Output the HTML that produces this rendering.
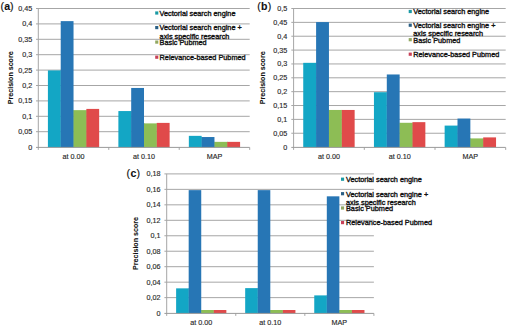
<!DOCTYPE html>
<html><head><meta charset="utf-8"><style>
html,body{margin:0;padding:0;background:#fff;}
body{width:520px;height:326px;overflow:hidden;}
svg{display:block;}
.lg{font-size:7.3px;}
.t{fill:#2a2a2a;stroke:#2a2a2a;stroke-width:0.15px;}
text{font-family:"Liberation Sans", sans-serif;font-size:7.2px;fill:#111;stroke:#111;stroke-width:0.35px;}
</style></head><body>
<svg width="520" height="326" viewBox="0 0 520 326">
<rect width="520" height="326" fill="#fff"/>
<line x1="36.00" y1="131.70" x2="249.70" y2="131.70" stroke="#a6a6a6" stroke-width="1"/>
<line x1="36.00" y1="116.30" x2="249.70" y2="116.30" stroke="#a6a6a6" stroke-width="1"/>
<line x1="36.00" y1="100.90" x2="249.70" y2="100.90" stroke="#a6a6a6" stroke-width="1"/>
<line x1="36.00" y1="85.50" x2="249.70" y2="85.50" stroke="#a6a6a6" stroke-width="1"/>
<line x1="36.00" y1="70.10" x2="249.70" y2="70.10" stroke="#a6a6a6" stroke-width="1"/>
<line x1="36.00" y1="54.70" x2="249.70" y2="54.70" stroke="#a6a6a6" stroke-width="1"/>
<line x1="36.00" y1="39.30" x2="249.70" y2="39.30" stroke="#a6a6a6" stroke-width="1"/>
<line x1="36.00" y1="23.90" x2="249.70" y2="23.90" stroke="#a6a6a6" stroke-width="1"/>
<line x1="36.00" y1="8.50" x2="249.70" y2="8.50" stroke="#a6a6a6" stroke-width="1"/>
<line x1="38.30" y1="8.50" x2="38.30" y2="147.40" stroke="#a6a6a6" stroke-width="1"/>
<line x1="38.30" y1="147.40" x2="38.30" y2="149.90" stroke="#a6a6a6" stroke-width="1"/>
<line x1="108.77" y1="147.40" x2="108.77" y2="149.90" stroke="#a6a6a6" stroke-width="1"/>
<line x1="179.23" y1="147.40" x2="179.23" y2="149.90" stroke="#a6a6a6" stroke-width="1"/>
<line x1="249.70" y1="147.40" x2="249.70" y2="149.90" stroke="#a6a6a6" stroke-width="1"/>
<text x="32.20" y="149.60" text-anchor="end" class="t">0</text>
<text x="32.20" y="134.20" text-anchor="end" class="t">0,05</text>
<text x="32.20" y="118.80" text-anchor="end" class="t">0,1</text>
<text x="32.20" y="103.40" text-anchor="end" class="t">0,15</text>
<text x="32.20" y="88.00" text-anchor="end" class="t">0,2</text>
<text x="32.20" y="72.60" text-anchor="end" class="t">0,25</text>
<text x="32.20" y="57.20" text-anchor="end" class="t">0,3</text>
<text x="32.20" y="41.80" text-anchor="end" class="t">0,35</text>
<text x="32.20" y="26.40" text-anchor="end" class="t">0,4</text>
<text x="32.20" y="11.00" text-anchor="end" class="t">0,45</text>
<rect x="47.91" y="70.41" width="12.81" height="76.99" fill="#13a6c5"/>
<rect x="60.42" y="70.41" width="0.8" height="76.99" fill="#13a6c5"/>
<rect x="60.72" y="21.13" width="12.81" height="126.27" fill="#2776b5"/>
<rect x="73.23" y="110.14" width="0.8" height="37.26" fill="#2776b5"/>
<rect x="73.53" y="110.14" width="12.81" height="37.26" fill="#8dbd55"/>
<rect x="86.05" y="110.14" width="0.8" height="37.26" fill="#8dbd55"/>
<rect x="86.35" y="108.91" width="12.81" height="38.49" fill="#e04a4a"/>
<text x="73.53" y="158.70" text-anchor="middle" class="t">at 0.00</text>
<rect x="118.38" y="111.06" width="12.81" height="36.34" fill="#13a6c5"/>
<rect x="130.89" y="111.06" width="0.8" height="36.34" fill="#13a6c5"/>
<rect x="131.19" y="87.96" width="12.81" height="59.44" fill="#2776b5"/>
<rect x="143.70" y="123.38" width="0.8" height="24.02" fill="#2776b5"/>
<rect x="144.00" y="123.38" width="12.81" height="24.02" fill="#8dbd55"/>
<rect x="156.51" y="123.38" width="0.8" height="24.02" fill="#8dbd55"/>
<rect x="156.81" y="122.89" width="12.81" height="24.51" fill="#e04a4a"/>
<text x="144.00" y="158.70" text-anchor="middle" class="t">at 0.10</text>
<rect x="188.84" y="135.86" width="12.81" height="11.54" fill="#13a6c5"/>
<rect x="201.35" y="137.03" width="0.8" height="10.37" fill="#13a6c5"/>
<rect x="201.65" y="137.03" width="12.81" height="10.37" fill="#2776b5"/>
<rect x="214.17" y="141.86" width="0.8" height="5.54" fill="#2776b5"/>
<rect x="214.47" y="141.86" width="12.81" height="5.54" fill="#8dbd55"/>
<rect x="226.98" y="141.86" width="0.8" height="5.54" fill="#8dbd55"/>
<rect x="227.28" y="141.86" width="12.81" height="5.54" fill="#e04a4a"/>
<text x="214.47" y="158.70" text-anchor="middle" class="t">MAP</text>
<line x1="36.00" y1="147.40" x2="249.70" y2="147.40" stroke="#9a9a9a" stroke-width="1"/>
<text transform="translate(12.50,77.80) rotate(-90)" text-anchor="middle" style="font-weight:bold;font-size:7.1px;stroke-width:0.1px">Precision score</text>
<text x="0.60" y="9.80" style="font-size:10.6px;stroke-width:0.15px;letter-spacing:0px">(<tspan style="font-weight:bold;stroke-width:0.1px">a</tspan>)</text>
<rect x="155.20" y="11.40" width="3.1" height="3.2" fill="#1a9aa5"/>
<text x="159.60" y="15.80" class="lg">Vectorial search engine</text>
<rect x="155.20" y="26.00" width="3.1" height="3.2" fill="#2a5f85"/>
<text x="159.60" y="30.40" class="lg">Vectorial search engine +</text>
<text x="159.60" y="38.60" class="lg">axis specific research</text>
<rect x="155.20" y="40.50" width="3.1" height="3.2" fill="#92a862"/>
<text x="159.60" y="44.90" class="lg">Basic Pubmed</text>
<rect x="155.20" y="55.60" width="3.1" height="3.2" fill="#c84058"/>
<text x="159.60" y="60.00" class="lg">Relevance-based Pubmed</text>
<line x1="291.30" y1="133.24" x2="505.70" y2="133.24" stroke="#a6a6a6" stroke-width="1"/>
<line x1="291.30" y1="119.38" x2="505.70" y2="119.38" stroke="#a6a6a6" stroke-width="1"/>
<line x1="291.30" y1="105.52" x2="505.70" y2="105.52" stroke="#a6a6a6" stroke-width="1"/>
<line x1="291.30" y1="91.66" x2="505.70" y2="91.66" stroke="#a6a6a6" stroke-width="1"/>
<line x1="291.30" y1="77.80" x2="505.70" y2="77.80" stroke="#a6a6a6" stroke-width="1"/>
<line x1="291.30" y1="63.94" x2="505.70" y2="63.94" stroke="#a6a6a6" stroke-width="1"/>
<line x1="291.30" y1="50.08" x2="505.70" y2="50.08" stroke="#a6a6a6" stroke-width="1"/>
<line x1="291.30" y1="36.22" x2="505.70" y2="36.22" stroke="#a6a6a6" stroke-width="1"/>
<line x1="291.30" y1="22.36" x2="505.70" y2="22.36" stroke="#a6a6a6" stroke-width="1"/>
<line x1="291.30" y1="8.50" x2="505.70" y2="8.50" stroke="#a6a6a6" stroke-width="1"/>
<line x1="293.60" y1="8.50" x2="293.60" y2="147.40" stroke="#a6a6a6" stroke-width="1"/>
<line x1="293.60" y1="147.40" x2="293.60" y2="149.90" stroke="#a6a6a6" stroke-width="1"/>
<line x1="364.30" y1="147.40" x2="364.30" y2="149.90" stroke="#a6a6a6" stroke-width="1"/>
<line x1="435.00" y1="147.40" x2="435.00" y2="149.90" stroke="#a6a6a6" stroke-width="1"/>
<line x1="505.70" y1="147.40" x2="505.70" y2="149.90" stroke="#a6a6a6" stroke-width="1"/>
<text x="287.20" y="149.60" text-anchor="end" class="t">0</text>
<text x="287.20" y="135.74" text-anchor="end" class="t">0,05</text>
<text x="287.20" y="121.88" text-anchor="end" class="t">0,1</text>
<text x="287.20" y="108.02" text-anchor="end" class="t">0,15</text>
<text x="287.20" y="94.16" text-anchor="end" class="t">0,2</text>
<text x="287.20" y="80.30" text-anchor="end" class="t">0,25</text>
<text x="287.20" y="66.44" text-anchor="end" class="t">0,3</text>
<text x="287.20" y="52.58" text-anchor="end" class="t">0,35</text>
<text x="287.20" y="38.72" text-anchor="end" class="t">0,4</text>
<text x="287.20" y="24.86" text-anchor="end" class="t">0,45</text>
<text x="287.20" y="11.00" text-anchor="end" class="t">0,5</text>
<rect x="303.24" y="62.83" width="12.85" height="84.57" fill="#13a6c5"/>
<rect x="315.80" y="62.83" width="0.8" height="84.57" fill="#13a6c5"/>
<rect x="316.10" y="22.08" width="12.85" height="125.32" fill="#2776b5"/>
<rect x="328.65" y="109.96" width="0.8" height="37.44" fill="#2776b5"/>
<rect x="328.95" y="109.96" width="12.85" height="37.44" fill="#8dbd55"/>
<rect x="341.50" y="109.96" width="0.8" height="37.44" fill="#8dbd55"/>
<rect x="341.80" y="109.96" width="12.85" height="37.44" fill="#e04a4a"/>
<text x="328.95" y="158.70" text-anchor="middle" class="t">at 0.00</text>
<rect x="373.94" y="92.21" width="12.85" height="55.19" fill="#13a6c5"/>
<rect x="386.50" y="92.21" width="0.8" height="55.19" fill="#13a6c5"/>
<rect x="386.80" y="74.47" width="12.85" height="72.93" fill="#2776b5"/>
<rect x="399.35" y="122.79" width="0.8" height="24.61" fill="#2776b5"/>
<rect x="399.65" y="122.79" width="12.85" height="24.61" fill="#8dbd55"/>
<rect x="412.20" y="122.79" width="0.8" height="24.61" fill="#8dbd55"/>
<rect x="412.50" y="122.15" width="12.85" height="25.25" fill="#e04a4a"/>
<text x="399.65" y="158.70" text-anchor="middle" class="t">at 0.10</text>
<rect x="444.64" y="125.59" width="12.85" height="21.81" fill="#13a6c5"/>
<rect x="457.20" y="125.59" width="0.8" height="21.81" fill="#13a6c5"/>
<rect x="457.50" y="118.55" width="12.85" height="28.85" fill="#2776b5"/>
<rect x="470.05" y="138.40" width="0.8" height="9.00" fill="#2776b5"/>
<rect x="470.35" y="138.40" width="12.85" height="9.00" fill="#8dbd55"/>
<rect x="482.90" y="138.40" width="0.8" height="9.00" fill="#8dbd55"/>
<rect x="483.20" y="137.40" width="12.85" height="10.00" fill="#e04a4a"/>
<text x="470.35" y="158.70" text-anchor="middle" class="t">MAP</text>
<line x1="291.30" y1="147.40" x2="505.70" y2="147.40" stroke="#9a9a9a" stroke-width="1"/>
<text transform="translate(265.40,77.80) rotate(-90)" text-anchor="middle" style="font-weight:bold;font-size:7.1px;stroke-width:0.1px">Precision score</text>
<text x="257.20" y="10.00" style="font-size:10.6px;stroke-width:0.15px;letter-spacing:0.25px">(<tspan style="font-weight:bold;stroke-width:0.1px">b</tspan>)</text>
<rect x="408.70" y="9.90" width="3.1" height="3.2" fill="#1a9aa5"/>
<text x="413.30" y="14.30" class="lg">Vectorial search engine</text>
<rect x="408.70" y="23.60" width="3.1" height="3.2" fill="#2a5f85"/>
<text x="413.30" y="28.00" class="lg">Vectorial search engine +</text>
<text x="413.30" y="36.20" class="lg">axis specific research</text>
<rect x="408.70" y="38.10" width="3.1" height="3.2" fill="#92a862"/>
<text x="413.30" y="42.50" class="lg">Basic Pubmed</text>
<rect x="408.70" y="52.60" width="3.1" height="3.2" fill="#c84058"/>
<text x="413.30" y="57.00" class="lg">Relevance-based Pubmed</text>
<line x1="164.40" y1="297.63" x2="373.90" y2="297.63" stroke="#a6a6a6" stroke-width="1"/>
<line x1="164.40" y1="282.17" x2="373.90" y2="282.17" stroke="#a6a6a6" stroke-width="1"/>
<line x1="164.40" y1="266.70" x2="373.90" y2="266.70" stroke="#a6a6a6" stroke-width="1"/>
<line x1="164.40" y1="251.23" x2="373.90" y2="251.23" stroke="#a6a6a6" stroke-width="1"/>
<line x1="164.40" y1="235.77" x2="373.90" y2="235.77" stroke="#a6a6a6" stroke-width="1"/>
<line x1="164.40" y1="220.30" x2="373.90" y2="220.30" stroke="#a6a6a6" stroke-width="1"/>
<line x1="164.40" y1="204.83" x2="373.90" y2="204.83" stroke="#a6a6a6" stroke-width="1"/>
<line x1="164.40" y1="189.37" x2="373.90" y2="189.37" stroke="#a6a6a6" stroke-width="1"/>
<line x1="164.40" y1="173.90" x2="373.90" y2="173.90" stroke="#a6a6a6" stroke-width="1"/>
<line x1="166.70" y1="173.90" x2="166.70" y2="313.40" stroke="#a6a6a6" stroke-width="1"/>
<line x1="166.70" y1="313.40" x2="166.70" y2="315.90" stroke="#a6a6a6" stroke-width="1"/>
<line x1="235.77" y1="313.40" x2="235.77" y2="315.90" stroke="#a6a6a6" stroke-width="1"/>
<line x1="304.83" y1="313.40" x2="304.83" y2="315.90" stroke="#a6a6a6" stroke-width="1"/>
<line x1="373.90" y1="313.40" x2="373.90" y2="315.90" stroke="#a6a6a6" stroke-width="1"/>
<text x="160.60" y="315.60" text-anchor="end" class="t">0</text>
<text x="160.60" y="300.13" text-anchor="end" class="t">0,02</text>
<text x="160.60" y="284.67" text-anchor="end" class="t">0,04</text>
<text x="160.60" y="269.20" text-anchor="end" class="t">0,06</text>
<text x="160.60" y="253.73" text-anchor="end" class="t">0,08</text>
<text x="160.60" y="238.27" text-anchor="end" class="t">0,1</text>
<text x="160.60" y="222.80" text-anchor="end" class="t">0,12</text>
<text x="160.60" y="207.33" text-anchor="end" class="t">0,14</text>
<text x="160.60" y="191.87" text-anchor="end" class="t">0,16</text>
<text x="160.60" y="176.40" text-anchor="end" class="t">0,18</text>
<rect x="176.12" y="288.35" width="12.56" height="25.05" fill="#13a6c5"/>
<rect x="188.38" y="288.35" width="0.8" height="25.05" fill="#13a6c5"/>
<rect x="188.68" y="190.14" width="12.56" height="123.26" fill="#2776b5"/>
<rect x="200.93" y="310.01" width="0.8" height="3.39" fill="#2776b5"/>
<rect x="201.23" y="310.01" width="12.56" height="3.39" fill="#8dbd55"/>
<rect x="213.49" y="310.01" width="0.8" height="3.39" fill="#8dbd55"/>
<rect x="213.79" y="310.01" width="12.56" height="3.39" fill="#e04a4a"/>
<text x="201.23" y="324.70" text-anchor="middle" class="t">at 0.00</text>
<rect x="245.18" y="288.12" width="12.56" height="25.28" fill="#13a6c5"/>
<rect x="257.44" y="288.12" width="0.8" height="25.28" fill="#13a6c5"/>
<rect x="257.74" y="190.14" width="12.56" height="123.26" fill="#2776b5"/>
<rect x="270.00" y="310.01" width="0.8" height="3.39" fill="#2776b5"/>
<rect x="270.30" y="310.01" width="12.56" height="3.39" fill="#8dbd55"/>
<rect x="282.56" y="310.01" width="0.8" height="3.39" fill="#8dbd55"/>
<rect x="282.86" y="310.01" width="12.56" height="3.39" fill="#e04a4a"/>
<text x="270.30" y="324.70" text-anchor="middle" class="t">at 0.10</text>
<rect x="314.25" y="295.39" width="12.56" height="18.01" fill="#13a6c5"/>
<rect x="326.51" y="295.39" width="0.8" height="18.01" fill="#13a6c5"/>
<rect x="326.81" y="196.33" width="12.56" height="117.07" fill="#2776b5"/>
<rect x="339.07" y="310.01" width="0.8" height="3.39" fill="#2776b5"/>
<rect x="339.37" y="310.01" width="12.56" height="3.39" fill="#8dbd55"/>
<rect x="351.62" y="310.01" width="0.8" height="3.39" fill="#8dbd55"/>
<rect x="351.92" y="310.01" width="12.56" height="3.39" fill="#e04a4a"/>
<text x="339.37" y="324.70" text-anchor="middle" class="t">MAP</text>
<line x1="164.40" y1="313.40" x2="373.90" y2="313.40" stroke="#9a9a9a" stroke-width="1"/>
<text transform="translate(138.40,243.50) rotate(-90)" text-anchor="middle" style="font-weight:bold;font-size:7.1px;stroke-width:0.1px">Precision score</text>
<text x="126.60" y="177.20" style="font-size:10.6px;stroke-width:0.15px;letter-spacing:0.25px">(<tspan style="font-weight:bold;stroke-width:0.1px">c</tspan>)</text>
<rect x="341.00" y="177.60" width="3.1" height="3.2" fill="#1a9aa5"/>
<text x="346.00" y="182.00" class="lg">Vectorial search engine</text>
<rect x="341.00" y="192.10" width="3.1" height="3.2" fill="#2a5f85"/>
<text x="346.00" y="196.50" class="lg">Vectorial search engine +</text>
<text x="346.00" y="204.70" class="lg">axis specific research</text>
<rect x="341.00" y="206.40" width="3.1" height="3.2" fill="#92a862"/>
<text x="346.00" y="210.80" class="lg">Basic Pubmed</text>
<rect x="341.00" y="221.00" width="3.1" height="3.2" fill="#c84058"/>
<text x="346.00" y="225.40" class="lg">Relevance-based Pubmed</text>
</svg>
</body></html>
